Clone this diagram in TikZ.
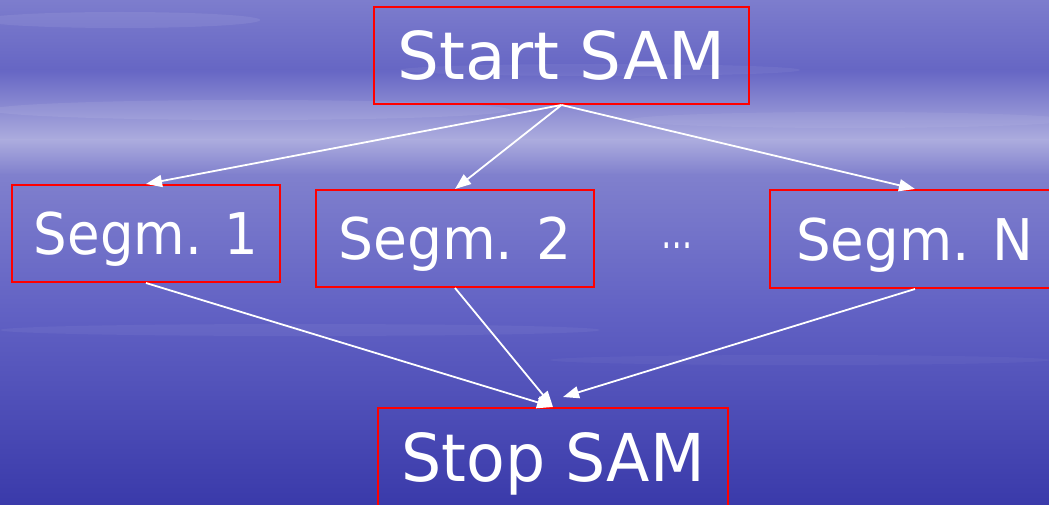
\documentclass[tikz,border=0pt]{standalone}
\usepackage{fontspec}
\setmainfont{DejaVu Sans}
\usetikzlibrary{arrows.meta}
\definecolor{bgA}{RGB}{125,125,205}
\definecolor{bgB}{RGB}{102,102,196}
\definecolor{bgC}{RGB}{172,172,222}
\definecolor{bgD}{RGB}{128,128,205}
\definecolor{bgE}{RGB}{98,98,196}
\definecolor{bgF}{RGB}{58,58,170}
\definecolor{boxred}{RGB}{255,0,0}
\newcommand{\xsc}[2]{\scalebox{#1}[1]{#2}}
\tikzset{
  box/.style={draw=boxred, line width=2pt, text=white, inner sep=0pt, text depth=0pt},
  bigtxt/.style={font=\fontsize{66}{72}\selectfont, text height=48pt},
  midtxt/.style={font=\fontsize{57.5}{64}\selectfont, text height=42pt},
  conn/.style={draw=white, line width=1.8pt, -{Triangle[length=16pt,width=12pt]}}
}
\begin{document}
\begin{tikzpicture}[x=1pt,y=-1pt]
\useasboundingbox (0,0) rectangle (1049,505);
\clip (0,0) rectangle (1049,505);
% background
\shade[top color=bgA, bottom color=bgB] (0,0) rectangle (1049,70);
\shade[top color=bgB, bottom color=bgC] (0,69.5) rectangle (1049,140);
\shade[top color=bgC, bottom color=bgD] (0,139.5) rectangle (1049,175);
\shade[top color=bgD, bottom color=bgE] (0,174.5) rectangle (1049,310);
\shade[top color=bgE, bottom color=bgF] (0,309.5) rectangle (1049,505);
% streaks
\fill[white, opacity=0.08] (120,20) ellipse (140 and 8);
\fill[white, opacity=0.06] (600,70) ellipse (200 and 6);
\fill[white, opacity=0.08] (250,110) ellipse (260 and 10);
\fill[white, opacity=0.06] (850,120) ellipse (220 and 8);
\fill[white, opacity=0.05] (300,330) ellipse (300 and 6);
\fill[white, opacity=0.04] (800,360) ellipse (250 and 5);
% nodes
\node[box, bigtxt, minimum width=375pt, minimum height=97pt] (start) at (561.5,55.5) {\xsc{1.0}{Start SAM}};
\node[box, midtxt, minimum width=268pt, minimum height=97pt] (s1) at (146,233.5) {\xsc{0.92}{Segm. 1}};
\node[box, midtxt, minimum width=278pt, minimum height=97pt] (s2) at (455,238.5) {\xsc{0.96}{Segm. 2}};
\node[box, midtxt, minimum width=290pt, minimum height=98pt] (sn) at (915,239) {\xsc{0.95}{Segm. N}};
\node[text=white, inner sep=0pt, font=\fontsize{46}{50}\selectfont] (dots) at (677,246) {\xsc{0.68}{…}};
\node[box, bigtxt, minimum width=350pt, minimum height=98pt] (stop) at (553,457) {\xsc{0.96}{Stop SAM}};
\coordinate (snend) at (563,397);
% connectors
\draw[conn] (start.south) -- (s1.north);
\draw[conn] (start.south) -- (s2.north);
\draw[conn] (start.south) -- (sn.north);
\draw[conn] (s1.south) -- (stop.north);
\draw[conn] (s2.south) -- (stop.north);
\draw[conn] (sn.south) -- (snend);
\end{tikzpicture}
\end{document}
